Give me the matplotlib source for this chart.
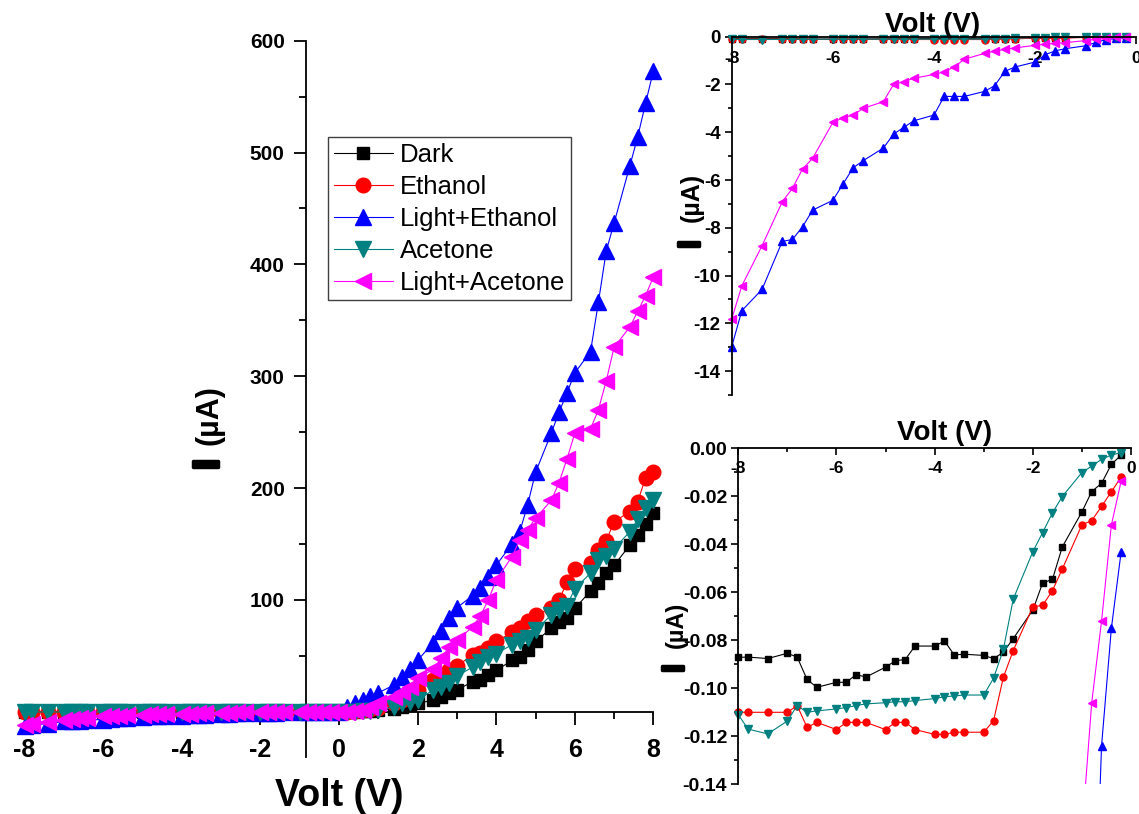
import numpy as np
import matplotlib
matplotlib.use("Agg")
import matplotlib.pyplot as plt
import matplotlib.patheffects as pe
from matplotlib.ticker import MultipleLocator, FormatStrFormatter

plt.rcParams['font.family'] = ['Liberation Sans', 'DejaVu Sans']
plt.rcParams['font.weight'] = 'bold'
plt.rcParams['axes.unicode_minus'] = False

# bias voltage (V), reverse and forward branches
volt_neg = [-8, -7.8, -7.4, -7, -6.8, -6.6, -6.4, -6, -5.8, -5.6, -5.4, -5, -4.8, -4.6, -4.4, -4,
            -3.8, -3.6, -3.4, -3, -2.8, -2.6, -2.4, -2, -1.8, -1.6, -1.4, -1, -0.8, -0.6, -0.4, -0.2]
volt_pos = [0, 0.2, 0.4, 0.6, 0.8, 1.0, 1.4, 1.6, 1.8, 2.0, 2.4, 2.6, 2.8, 3.0, 3.4, 3.6, 3.8,
            4.0, 4.4, 4.6, 4.8, 5.0, 5.4, 5.6, 5.8, 6.0, 6.4, 6.6, 6.8, 7.0, 7.4, 7.6, 7.8, 8.0]

# current (uA)
dark_neg = [-0.0871, -0.0870, -0.0876, -0.0854, -0.0870, -0.0963, -0.0996, -0.0975, -0.0975, -0.0943,
            -0.0953, -0.0912, -0.0885, -0.0880, -0.0824, -0.0824, -0.0803, -0.0861, -0.0858, -0.0863,
            -0.0876, -0.0850, -0.0793, -0.0674, -0.0561, -0.0546, -0.0411, -0.0265, -0.0180, -0.0146,
            -0.0067, -0.0028]
dark_pos = [0, 0.1, 0.3, 0.6, 1.0, 1.5, 3.0, 4.5, 6.0, 7.5, 10.6, 13.5, 16.5, 19.5, 27, 28.5, 33,
            37, 46, 49, 55, 63, 74.6, 80, 84, 92.5, 108, 115, 124, 131, 149, 158, 168, 178]

eth_neg = [-0.110, -0.110, -0.110, -0.110, -0.1072, -0.1163, -0.1142, -0.1172, -0.1142, -0.1142,
           -0.1142, -0.1172, -0.1142, -0.1142, -0.1172, -0.1192, -0.1192, -0.1183, -0.1183, -0.1183,
           -0.1135, -0.0954, -0.0843, -0.0661, -0.0654, -0.0593, -0.0503, -0.0319, -0.0301, -0.0242,
           -0.0181, -0.0120]
eth_pos = [0, 0.3, 0.8, 1.5, 2.5, 3.5, 7.6, 10.6, 15, 19.5, 28.4, 33, 37.3, 41, 50.8, 53, 57,
           63, 71, 75, 81, 86.5, 92.5, 100, 116, 128, 133, 145, 153, 170, 179, 188, 209, 214]

leth_neg = [-12.98, -11.47, -10.58, -8.57, -8.49, -7.96, -7.26, -6.85, -6.17, -5.49, -5.19, -4.66,
            -4.08, -3.80, -3.52, -3.28, -2.50, -2.50, -2.50, -2.29, -2.05, -1.45, -1.27, -1.06,
            -0.75, -0.59, -0.50, -0.38, -0.24, -0.124, -0.075, -0.043]
leth_pos = [0, 4.5, 8, 11, 14, 17, 24, 31, 38, 46, 62, 72, 84, 93, 104, 111, 121,
            131, 150, 161, 185, 214, 249, 268, 285, 303, 322, 366, 412, 437, 488, 514, 544, 573]

ace_neg = [-0.111, -0.117, -0.119, -0.1136, -0.1072, -0.110, -0.1094, -0.1086, -0.108, -0.1072,
           -0.1065, -0.106, -0.1056, -0.1056, -0.1051, -0.1043, -0.1035, -0.1032, -0.1028, -0.1028,
           -0.0958, -0.0838, -0.0629, -0.0431, -0.0351, -0.0269, -0.0201, -0.0101, -0.0074, -0.0046,
           -0.0028, -0.0018]
ace_pos = [0, 0.1, 0.2, 0.4, 0.8, 1.6, 4.6, 7.6, 9, 11, 19.5, 22, 25.5, 32, 40, 45, 49,
           52, 60, 63, 66, 73, 86.5, 91, 95, 110, 124, 136, 139, 146, 161, 172, 182, 189]

lace_neg = [-11.82, -10.43, -8.75, -6.91, -6.35, -5.54, -5.09, -3.59, -3.39, -3.28, -3.00, -2.72,
            -2.00, -1.88, -1.74, -1.58, -1.47, -1.27, -0.94, -0.70, -0.60, -0.53, -0.47, -0.36,
            -0.31, -0.28, -0.25, -0.16, -0.106, -0.072, -0.032, -0.0136]
lace_pos = [0, 0.3, 1, 2, 4, 7.6, 13.5, 18, 22.5, 30, 38, 47.8, 58, 64, 76, 86, 100,
            117.8, 138.7, 153.6, 163, 173, 189, 205, 226, 249, 253, 270, 296, 326, 344, 358, 372, 389]

labels = ["Dark", "Ethanol", "Light+Ethanol", "Acetone", "Light+Acetone"]
colors = ["black", "#ff0000", "#0000ff", "#008080", "#ff00ff"]
markers = ["s", "o", "^", "v", "<"]
msize_main = [9, 10.5, 12, 12, 12]
msize_ins = [4.5, 5, 5.5, 5.5, 5.5]

volt = np.array(volt_neg + volt_pos)
currents = [np.array(dark_neg + dark_pos), np.array(eth_neg + eth_pos), np.array(leth_neg + leth_pos),
            np.array(ace_neg + ace_pos), np.array(lace_neg + lace_pos)]
neg = volt < 0

W, H = 1139, 814
fig = plt.figure(figsize=(W / 100, H / 100), dpi=100)


def fx(px):
    return px / W


def fy(py):
    return 1 - py / H


def style_axes(a, xpos, ypos):
    a.spines['top'].set_visible(False)
    a.spines['right'].set_visible(False)
    a.spines['left'].set_position(('data', xpos))
    a.spines['bottom'].set_position(('data', ypos))
    for s in ('left', 'bottom'):
        a.spines[s].set_linewidth(1.3)


def current_label(xb, y_start, gap, big, small):
    # "I (uA)" rotated, with the two parts sharing one baseline; the I is drawn extra heavy
    fig.text(fx(xb), fy(y_start), "I", fontsize=big, rotation=90, rotation_mode='anchor',
             ha='left', va='baseline',
             path_effects=[pe.withStroke(linewidth=2.5, foreground='black')])
    fig.text(fx(xb), fy(y_start - gap), "(µA)", fontsize=small, rotation=90,
             rotation_mode='anchor', ha='left', va='baseline')


# ---- main plot ----
ax = fig.add_axes([fx(24.6), fy(756.6), fx(653.4) - fx(24.6), fy(40.7) - fy(756.6)])
lines = []
for i in range(5):
    l, = ax.plot(volt, currents[i], color=colors[i], marker=markers[i], ms=msize_main[i],
                 lw=0.8, label=labels[i], clip_on=False, zorder=3)
    lines.append(l)
ax.set_xlim(-8, 8)
ax.set_ylim(-40, 600)
style_axes(ax, -0.85, 0)
ax.xaxis.set_major_locator(MultipleLocator(2))
ax.xaxis.set_minor_locator(MultipleLocator(1))
ax.yaxis.set_major_locator(MultipleLocator(100))
ax.yaxis.set_minor_locator(MultipleLocator(50))
ax.tick_params(axis='x', which='major', direction='out', length=9, width=1.3, labelsize=18, pad=10)
ax.tick_params(axis='x', which='minor', direction='out', length=5, width=1.3)
ax.tick_params(axis='y', which='major', direction='out', length=9, width=1.3, labelsize=15, pad=6)
ax.tick_params(axis='y', which='minor', direction='out', length=5, width=1.3)

fig.text(fx(339), fy(796), "Volt (V)", fontsize=27, ha='center', va='center')
current_label(218, 469, 24, 26, 22)

leg = ax.legend(handles=lines, loc='upper left', bbox_to_anchor=(fx(328), fy(137)),
                bbox_transform=fig.transFigure, fancybox=False, edgecolor='#404040',
                prop=dict(weight='normal', size=18.5), handlelength=2.3, handletextpad=0.27,
                labelspacing=0.31, borderpad=0.22, borderaxespad=0, numpoints=1, framealpha=1)
leg.get_frame().set_linewidth(1.0)
leg.set_zorder(5)

# ---- inset: full reverse branch ----
ax1 = fig.add_axes([fx(731.7), fy(395), fx(1136.3) - fx(731.7), fy(36.7) - fy(395)])
for i in range(5):
    ax1.plot(volt[neg], currents[i][neg], color=colors[i], marker=markers[i], ms=msize_ins[i],
             lw=0.8, clip_on=False)
ax1.set_xlim(-8, 0)
ax1.set_ylim(-15, 0)
style_axes(ax1, -8, 0)
ax1.xaxis.set_major_locator(MultipleLocator(2))
ax1.xaxis.set_minor_locator(MultipleLocator(1))
ax1.yaxis.set_major_locator(MultipleLocator(2))
ax1.yaxis.set_minor_locator(MultipleLocator(1))
ax1.tick_params(axis='both', which='major', direction='out', length=5, width=1.2)
ax1.tick_params(axis='both', which='minor', direction='out', length=3, width=1.2)
ax1.tick_params(axis='x', labelsize=12.5, pad=5)
ax1.tick_params(axis='y', labelsize=13.5, pad=3)

fig.text(fx(933), fy(25), "Volt (V)", fontsize=20, ha='center', va='center')
current_label(699, 248, 26, 22, 18)

# ---- inset: low current zoom ----
ax2 = fig.add_axes([fx(738.3), fy(784.3), fx(1131) - fx(738.3), fy(448.3) - fy(784.3)])
for i in range(5):
    ax2.plot(volt[neg], currents[i][neg], color=colors[i], marker=markers[i], ms=msize_ins[i],
             lw=0.8, clip_on=(i in (2, 4)))
ax2.set_xlim(-8, 0)
ax2.set_ylim(-0.14, 0)
style_axes(ax2, -8, 0)
ax2.xaxis.set_major_locator(MultipleLocator(2))
ax2.xaxis.set_minor_locator(MultipleLocator(1))
ax2.yaxis.set_major_locator(MultipleLocator(0.02))
ax2.yaxis.set_minor_locator(MultipleLocator(0.01))
ax2.yaxis.set_major_formatter(FormatStrFormatter('%.2f'))
ax2.tick_params(axis='both', which='major', direction='out', length=5, width=1.2)
ax2.tick_params(axis='both', which='minor', direction='out', length=3, width=1.2)
ax2.tick_params(axis='x', labelsize=12.5, pad=4)
ax2.tick_params(axis='y', labelsize=14, pad=3)

fig.text(fx(945), fy(433), "Volt (V)", fontsize=20, ha='center', va='center')
current_label(683, 672, 24, 22, 17)

fig.savefig("out.png", dpi=100)
